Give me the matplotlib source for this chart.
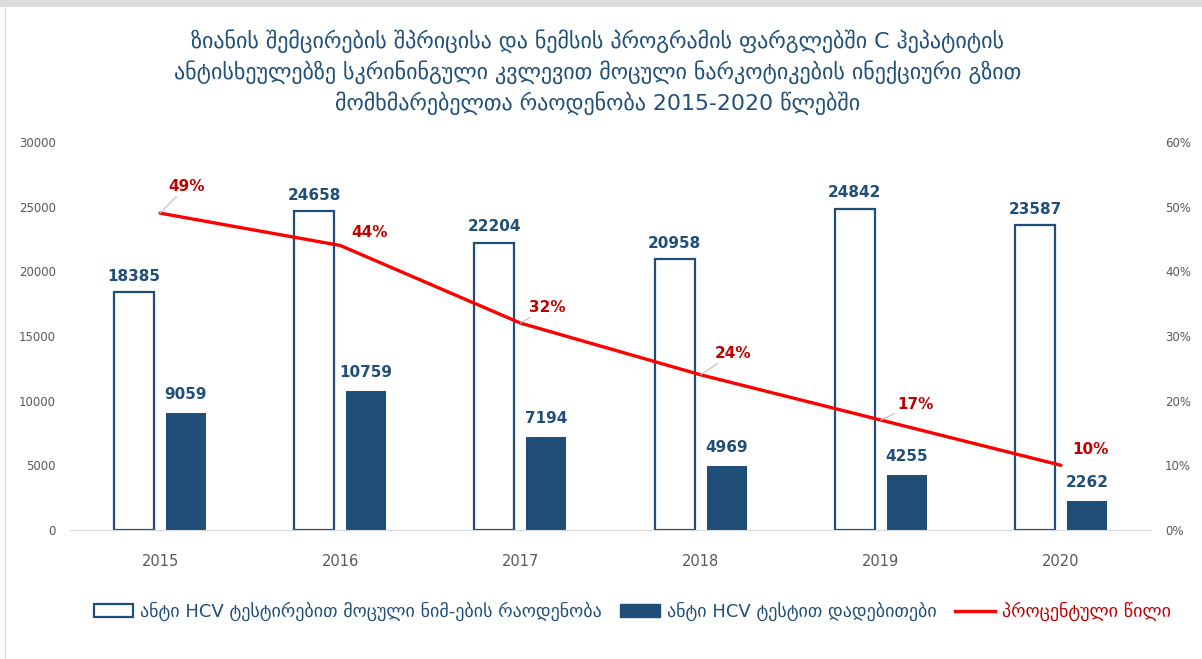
import matplotlib.pyplot as plt
from matplotlib.lines import Line2D
from matplotlib.patches import Patch
import numpy as np

# Data
years = ['2015', '2016', '2017', '2018', '2019', '2020']
tested = [18385, 24658, 22204, 20958, 24842, 23587]
positive = [9059, 10759, 7194, 4969, 4255, 2262]
share = [0.49, 0.44, 0.32, 0.24, 0.17, 0.10]

title = ('ზიანის შემცირების შპრიცისა და ნემსის პროგრამის ფარგლებში C ჰეპატიტის\n'
         'ანტისხეულებზე სკრინინგული კვლევით მოცული ნარკოტიკების ინექციური გზით\n'
         'მომხმარებელთა რაოდენობა 2015-2020 წლებში')
label_tested = 'ანტი HCV ტესტირებით მოცული ნიმ-ების რაოდენობა'
label_positive = 'ანტი HCV ტესტით დადებითები'
label_share = 'პროცენტული წილი'

blue = '#1F4E79'
red = '#FF0000'
dark_red = '#C00000'
grey = '#595959'

plt.rcParams['font.family'] = ['DejaVu Sans']

fig = plt.figure(figsize=(12.02, 6.59), dpi=100)
ax = fig.add_axes([0.0582, 0.1958, 0.8994, 0.5887])
ax2 = ax.twinx()

x = np.arange(len(years))
w = 0.222
off = 0.144

# Bars: hollow for tested, filled for positive
ax.bar(x - off, tested, w, facecolor='white', edgecolor=blue, linewidth=1.6)
ax.bar(x + off, positive, w, facecolor=blue, edgecolor=blue, linewidth=0)

for xi, v in zip(x, tested):
    ax.annotate(str(v), (xi - off, v), xytext=(0, 6), textcoords='offset points',
                ha='center', va='bottom', fontsize=11, fontweight='bold', color=blue)
for xi, v in zip(x, positive):
    ax.annotate(str(v), (xi + off, v), xytext=(0, 8), textcoords='offset points',
                ha='center', va='bottom', fontsize=11, fontweight='bold', color=blue)

ax.set_xlim(-0.5, len(years) - 0.5)
ax.set_ylim(0, 30000)
ax.set_yticks(range(0, 30001, 5000))
ax.set_xticks(x)
ax.set_xticklabels(years)
ax.tick_params(axis='y', length=0, labelsize=8.5, labelcolor=grey, pad=10)
ax.tick_params(axis='x', length=0, labelsize=10.5, labelcolor=grey, pad=17)
for s in ['top', 'right', 'left']:
    ax.spines[s].set_visible(False)
ax.spines['bottom'].set_color('#D9D9D9')

# Share line on the secondary axis
ax2.plot(x, share, color=red, linewidth=2.4, solid_capstyle='round')
ax2.set_ylim(0, 0.6)
ax2.set_yticks(np.arange(0, 0.61, 0.1))
ax2.set_yticklabels([f'{int(round(t * 100))}%' for t in np.arange(0, 0.61, 0.1)])
ax2.tick_params(axis='y', length=0, labelsize=8.5, labelcolor=grey, pad=10)
for s in ax2.spines.values():
    s.set_visible(False)

label_offsets = [(6, 14), (8, 4), (6, 6), (10, 10), (12, 6), (8, 6)]
leaders = [True, False, True, True, True, False]
for xi, v, (dx, dy), ld in zip(x, share, label_offsets, leaders):
    props = dict(arrowstyle='-', color='#BFBFBF', lw=0.8, shrinkA=0, shrinkB=0) if ld else None
    ax2.annotate(f'{int(round(v * 100))}%', (xi, v), xytext=(dx, dy),
                 textcoords='offset points', ha='left', va='bottom',
                 fontsize=11, fontweight='bold', color=dark_red, arrowprops=props)

fig.suptitle(title, x=0.497, y=0.955, fontsize=15.8, color=blue, linespacing=1.38)

handles = [Patch(facecolor='white', edgecolor=blue, linewidth=1.6),
           Patch(facecolor=blue, edgecolor=blue),
           Line2D([0], [0], color=red, linewidth=2.4)]
leg = fig.legend(handles, [label_tested, label_positive, label_share], loc='center',
                 bbox_to_anchor=(0.526, 0.072), ncol=3, frameon=False, fontsize=13,
                 handlelength=2.2, handletextpad=0.4, columnspacing=1.0)
for t, c in zip(leg.get_texts(), [blue, blue, dark_red]):
    t.set_color(c)

# Frame edges
fig.add_artist(Line2D([0, 1], [0.995, 0.995], transform=fig.transFigure, color='#DCDCDC', lw=5))
fig.add_artist(Line2D([0.004, 0.004], [0, 1], transform=fig.transFigure, color='#DCDCDC', lw=1))

fig.savefig('out.png', dpi=100)
